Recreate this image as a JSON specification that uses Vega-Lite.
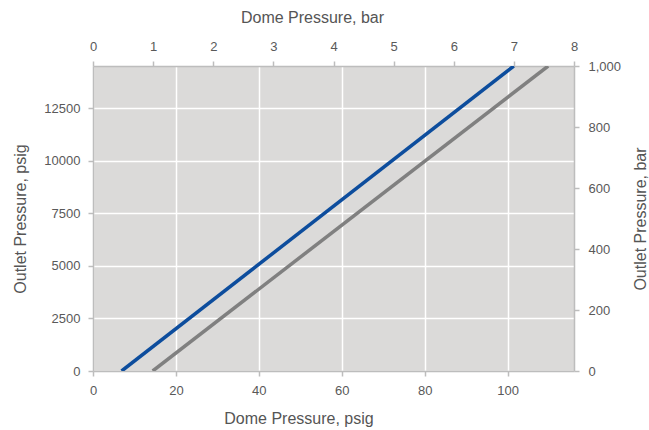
{
  "$schema": "https://vega.github.io/schema/vega-lite/v6.json",
  "width": 481,
  "height": 305,
  "autosize": {"type": "none"},
  "padding": {"left": 93, "top": 66, "right": 75, "bottom": 59},
  "background": "white",
  "config": {
    "font": "Liberation Sans",
    "view": {"fill": "#dbdad9", "stroke": null},
    "axis": {
      "domainColor": "#bdbdbd",
      "domainWidth": 1.5,
      "tickColor": "#bdbdbd",
      "tickWidth": 1.5,
      "tickSize": 5,
      "labelFontSize": 13,
      "labelColor": "#595959",
      "labelFlush": false,
      "labelOverlap": false,
      "titleFontSize": 16,
      "titleFontWeight": "normal",
      "titleColor": "#555555",
      "titleBaseline": "middle",
      "titleAlign": "center",
      "gridColor": "white",
      "gridWidth": 1.5,
      "gridOpacity": 1,
      "labelPadding": 8
    }
  },
  "data": {
    "values": [
      {"series": "A", "dome_psig": 6.9, "outlet_psig": 0, "dome_bar": 0.476, "outlet_bar": 0},
      {"series": "A", "dome_psig": 101.5, "outlet_psig": 14504, "dome_bar": 7.0, "outlet_bar": 1000},
      {"series": "B", "dome_psig": 14.4, "outlet_psig": 0, "dome_bar": 0.993, "outlet_bar": 0},
      {"series": "B", "dome_psig": 109.8, "outlet_psig": 14504, "dome_bar": 7.57, "outlet_bar": 1000}
    ]
  },
  "layer": [
    {
      "mark": {"type": "line", "strokeWidth": 3.5, "clip": true},
      "encoding": {
        "x": {
          "field": "dome_psig", "type": "quantitative",
          "scale": {"domain": [0, 116.03], "nice": false, "zero": false},
          "axis": {
            "orient": "bottom", "values": [0, 20, 40, 60, 80, 100], "grid": true,
            "title": "Dome Pressure, psig", "titleX": 205.5, "titleY": 47
          }
        },
        "y": {
          "field": "outlet_psig", "type": "quantitative",
          "scale": {"domain": [0, 14503.8], "nice": false, "zero": false},
          "axis": {
            "orient": "left", "values": [0, 2500, 5000, 7500, 10000, 12500], "grid": true, "format": "d",
            "title": "Outlet Pressure, psig", "titleX": -73, "titleY": 152.5, "titleAngle": 270
          }
        },
        "color": {
          "field": "series", "type": "nominal",
          "scale": {"domain": ["A", "B"], "range": ["#0d4d9d", "#808080"]},
          "legend": null
        },
        "detail": {"field": "series"}
      }
    },
    {
      "mark": {"type": "line", "strokeOpacity": 0},
      "encoding": {
        "x": {
          "field": "dome_bar", "type": "quantitative",
          "scale": {"domain": [0, 8], "nice": false, "zero": false},
          "axis": {
            "orient": "top", "values": [0, 1, 2, 3, 4, 5, 6, 7, 8], "grid": false,
            "title": "Dome Pressure, bar", "titleX": 219, "titleY": -48.5
          }
        },
        "y": {
          "field": "outlet_bar", "type": "quantitative",
          "scale": {"domain": [0, 1000], "nice": false, "zero": false},
          "axis": {
            "orient": "right", "values": [0, 200, 400, 600, 800, 1000], "grid": false, "format": ",d",
            "labelPadding": 9,
            "title": "Outlet Pressure, bar", "titleX": 66, "titleY": 152.5, "titleAngle": 270
          }
        },
        "detail": {"field": "series"}
      }
    }
  ],
  "resolve": {"scale": {"x": "independent", "y": "independent"}}
}
